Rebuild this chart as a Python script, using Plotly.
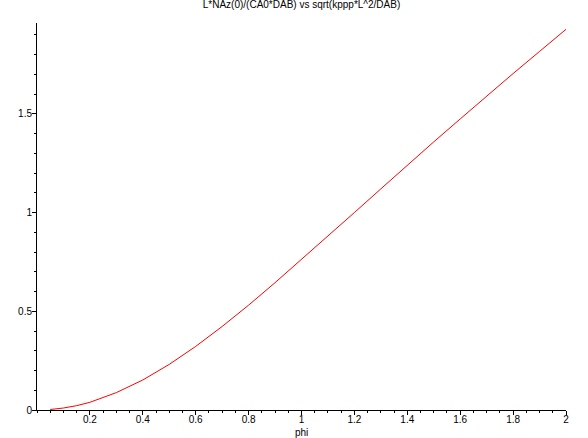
import plotly.graph_objects as go

phi = [0.05, 0.1, 0.15, 0.2, 0.3, 0.4, 0.5, 0.6, 0.7, 0.8, 0.9, 1.0,
       1.1, 1.2, 1.3, 1.4, 1.5, 1.6, 1.7, 1.8, 1.9, 2.0]
flux = [0.0025, 0.010, 0.022, 0.039, 0.088, 0.152, 0.231, 0.322, 0.423, 0.531,
        0.645, 0.762, 0.880, 1.000, 1.120, 1.240, 1.358, 1.474, 1.590, 1.704,
        1.816, 1.928]
x_ticks = [0.2, 0.4, 0.6, 0.8, 1, 1.2, 1.4, 1.6, 1.8, 2]
x_labels = ["0.2", "0.4", "0.6", "0.8", "1", "1.2", "1.4", "1.6", "1.8", "2"]
y_ticks = [0, 0.5, 1, 1.5]
y_labels = ["0", "0.5", "1", "1.5"]
title_text = "L*NAz(0)/(CA0*DAB) vs sqrt(kppp*L^2/DAB)"
x_title = "phi"

FONT = "Liberation Sans, Arial, sans-serif"

fig = go.Figure()
fig.add_trace(go.Scatter(x=phi, y=flux, mode="lines",
                         line=dict(color="#ff0000", width=1), showlegend=False))

fig.update_layout(
    width=588, height=438,
    margin=dict(l=37, r=22, t=23, b=28, autoexpand=False),
    paper_bgcolor="white", plot_bgcolor="white",
    font=dict(family=FONT, size=10, color="black"),
    title=dict(text=title_text, x=0.5, xref="paper", y=0.997, yanchor="top",
               font=dict(family=FONT, size=10, color="black")),
    annotations=[dict(text=x_title, x=0.5, xref="paper", y=-(432 - 410) / 387.0,
                      yref="paper", yanchor="middle",
                      showarrow=False, font=dict(family=FONT, size=10, color="black"))],
)

fig.update_xaxes(range=[0, 2], showgrid=False, zeroline=False, showline=True,
                 linecolor="black", linewidth=1, ticks="outside", ticklen=4,
                 tickcolor="black", tickwidth=1, tickvals=x_ticks, ticktext=x_labels,
                 ticklabelstandoff=-4,
                 minor=dict(ticks="outside", ticklen=2, tick0=0, dtick=0.05,
                            tickcolor="black", showgrid=False),
                 automargin=False)
fig.update_yaxes(range=[0, 1.96], showgrid=False, zeroline=False, showline=True,
                 linecolor="black", linewidth=1, ticks="outside", ticklen=4,
                 tickcolor="black", tickwidth=1, tickvals=y_ticks, ticktext=y_labels,
                 ticklabelstandoff=-2,
                 minor=dict(ticks="outside", ticklen=2, tick0=0, dtick=0.1,
                            tickcolor="black", showgrid=False),
                 automargin=False)

fig.write_html("out.html", config={"displayModeBar": False},
               post_script="document.body.style.margin='0';document.body.style.padding='0';")
